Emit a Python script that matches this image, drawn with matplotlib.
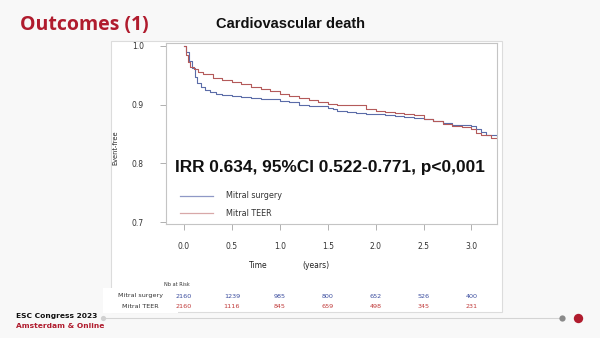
import matplotlib

matplotlib.use("Agg")
import matplotlib.pyplot as plt
from matplotlib.lines import Line2D
from matplotlib.patches import Rectangle
from matplotlib.transforms import blended_transform_factory

# %% Data
t_surgery = [0, 0.02, 0.05, 0.08, 0.11, 0.14, 0.18, 0.22, 0.27, 0.33, 0.4, 0.5, 0.6, 0.7, 0.8,
             0.9, 1.0, 1.1, 1.2, 1.3, 1.4, 1.5, 1.55, 1.6, 1.7, 1.8, 1.9, 2.0, 2.1, 2.2, 2.3,
             2.4, 2.5, 2.6, 2.7, 2.8, 2.9, 3.0, 3.05, 3.1, 3.15, 3.27]
s_surgery = [1.0, 0.99, 0.975, 0.962, 0.948, 0.937, 0.93, 0.925, 0.921, 0.918, 0.917, 0.915,
             0.913, 0.912, 0.91, 0.909, 0.907, 0.904, 0.9, 0.898, 0.897, 0.895, 0.893, 0.889,
             0.887, 0.886, 0.885, 0.884, 0.883, 0.881, 0.879, 0.877, 0.875, 0.872, 0.868,
             0.866, 0.865, 0.864, 0.858, 0.854, 0.849, 0.847]
t_teer = [0, 0.02, 0.04, 0.06, 0.1, 0.15, 0.2, 0.3, 0.4, 0.5, 0.6, 0.7, 0.8, 0.9, 1.0, 1.1,
          1.2, 1.3, 1.4, 1.5, 1.6, 1.7, 1.8, 1.9, 2.0, 2.1, 2.2, 2.3, 2.4, 2.5, 2.6, 2.7,
          2.8, 2.9, 3.0, 3.05, 3.1, 3.2, 3.27]
s_teer = [1.0, 0.985, 0.972, 0.965, 0.96, 0.956, 0.952, 0.946, 0.942, 0.938, 0.935, 0.931,
          0.927, 0.923, 0.919, 0.915, 0.911, 0.908, 0.904, 0.901, 0.9, 0.9, 0.899, 0.893,
          0.89, 0.888, 0.886, 0.885, 0.882, 0.875, 0.872, 0.867, 0.864, 0.862, 0.858,
          0.852, 0.848, 0.844, 0.844]

risk_times = [0.0, 0.5, 1.0, 1.5, 2.0, 2.5, 3.0]
risk_surgery = [2160, 1239, 985, 800, 652, 526, 400]
risk_teer = [2160, 1116, 845, 659, 498, 345, 231]
y_ticks = [0.7, 0.8, 0.9, 1.0]

BLUE = "#5b6ca8"
RED = "#b45a5a"
DARK_RED = "#b01c2e"
W, H = 600, 338


def fx(px):
    return px / W


def fy(py):
    return 1 - py / H


fig = plt.figure(figsize=(6, 3.38), dpi=100, facecolor="#f8f8f8")

# white chart panel + white patch behind row labels (kept under the axes)
fig.add_artist(Rectangle((fx(111), fy(312)), fx(502) - fx(111), fy(41) - fy(312),
                         transform=fig.transFigure, facecolor="white", edgecolor="#dcdcdc",
                         lw=0.8, zorder=-10))
fig.add_artist(Rectangle((fx(103), fy(313)), fx(178) - fx(103), fy(288) - fy(313),
                         transform=fig.transFigure, facecolor="white", edgecolor="none",
                         zorder=-9))

# %% KM axes
ax = fig.add_axes([fx(166), fy(224), fx(497) - fx(166), fy(43) - fy(224)])
ax.patch.set_alpha(0)
ax.step(t_surgery, s_surgery, where="post", color=BLUE, lw=0.8)
ax.step(t_teer, s_teer, where="post", color=RED, lw=0.8)
ax.set_xlim(-0.188, 3.267)
ax.set_ylim(0.6968, 1.0051)
ax.set_xticks(risk_times)
ax.set_xticklabels([f"{t:.1f}" for t in risk_times])
ax.set_yticks(y_ticks)
ax.set_yticklabels([f"{v:.1f}" for v in y_ticks])
for s in ax.spines.values():
    s.set_color("#c4c4c4")
    s.set_linewidth(0.8)
ax.tick_params(axis="both", direction="out", length=4, width=0.7, color="#b0b0b0",
               labelsize=5.5, labelcolor="#333333")
ax.tick_params(axis="y", pad=12)
ax.tick_params(axis="x", pad=9)
narrow = ["Liberation Sans Narrow", "DejaVu Sans"]
for lab in ax.get_xticklabels() + ax.get_yticklabels():
    lab.set_family(narrow)

ax.text(0.495, 0.31, "IRR 0.634, 95%CI 0.522-0.771, p<0,001", transform=ax.transAxes,
        ha="center", va="center", fontsize=12.4, fontweight="bold", color="#111111",
        family=["Liberation Sans", "DejaVu Sans"])

# legend drawn by hand
for py, col, lab in [(196, "#8f98c6", "Mitral surgery"), (213, "#d8a8a8", "Mitral TEER")]:
    fig.add_artist(Line2D([fx(180), fx(213)], [fy(py), fy(py)], color=col, lw=0.9,
                          transform=fig.transFigure))
    fig.text(fx(226), fy(py), lab, ha="left", va="center", fontsize=5.8, color="#333333",
             family=narrow)

fig.text(fx(115), fy(148), "Event-free", rotation=90, ha="center", va="center",
         fontsize=4.8, color="#222222", family=narrow)
fig.text(fx(258), fy(265), "Time", ha="center", va="center", fontsize=5.5, color="#222222", family=narrow)
fig.text(fx(316), fy(265), "(years)", ha="center", va="center", fontsize=5.5, color="#222222", family=narrow)

# %% number at risk
fig.text(fx(177), fy(284), "Nb at Risk", ha="center", va="center", fontsize=3.6,
         color="#333333", family=narrow)
fig.text(fx(140), fy(296), "Mitral surgery", ha="center", va="center", fontsize=4.6,
         color="#333333", family=narrow)
fig.text(fx(140), fy(307), "Mitral TEER", ha="center", va="center", fontsize=4.6,
         color="#333333", family=narrow)
tr = blended_transform_factory(ax.transData, fig.transFigure)
for t, a, b in zip(risk_times, risk_surgery, risk_teer):
    ax.text(t, fy(296), str(a), transform=tr, ha="center", va="center", fontsize=4.6,
            color="#3a4c9e", family=narrow, clip_on=False)
    ax.text(t, fy(307), str(b), transform=tr, ha="center", va="center", fontsize=4.6,
            color="#c03a3a", family=narrow, clip_on=False)

# %% slide titles & footer
fig.text(fx(20), fy(25), "Outcomes (1)", ha="left", va="center", fontsize=14,
         fontweight="bold", color=DARK_RED, family=["Open Sans", "DejaVu Sans"])
fig.text(fx(290), fy(24), "Cardiovascular death", ha="center", va="center", fontsize=10.5,
         fontweight="bold", color="#111111", family=["Liberation Sans", "DejaVu Sans"])
fig.text(fx(16), fy(316), "ESC Congress 2023", ha="left", va="center", fontsize=5.4,
         fontweight="bold", color="#111111")
fig.text(fx(16), fy(326), "Amsterdam & Online", ha="left", va="center", fontsize=5.4,
         fontweight="bold", color=DARK_RED)
fig.add_artist(Line2D([fx(103), fx(562)], [fy(318), fy(318)], color="#d4d4d4", lw=0.8,
                      transform=fig.transFigure))
for px, r, col in [(103, 2.5, "#d0d0d0"), (562, 3, "#8a8a8a"), (578, 4.5, DARK_RED)]:
    fig.add_artist(Line2D([fx(px)], [fy(318)], marker="o", markersize=r * 1.5, color=col,
                          markeredgewidth=0, transform=fig.transFigure))

fig.savefig("out.png", dpi=100, facecolor=fig.get_facecolor())
